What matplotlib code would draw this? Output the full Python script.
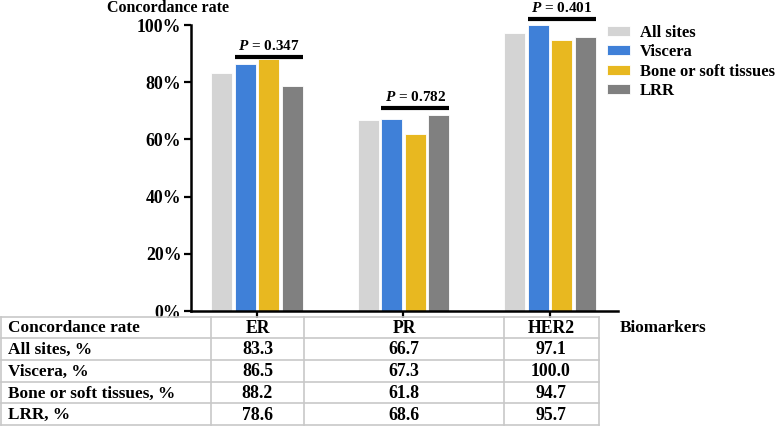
import matplotlib
matplotlib.use("Agg")
import matplotlib.pyplot as plt
import numpy as np

plt.rcParams['font.family'] = 'Liberation Serif'
plt.rcParams['font.weight'] = 'bold'
plt.rcParams['mathtext.fontset'] = 'custom'
plt.rcParams['mathtext.it'] = 'Liberation Serif:italic:bold'
plt.rcParams['mathtext.rm'] = 'Liberation Serif:bold'

# data
biomarkers = ['ER', 'PR', 'HER2']
groups = ['All sites', 'Viscera', 'Bone or soft tissues', 'LRR']
all_sites = [83.3, 66.7, 97.1]
viscera = [86.5, 67.3, 100.0]
bone_soft = [88.2, 61.8, 94.7]
lrr = [78.6, 68.6, 95.7]
p_values = ['0.347', '0.782', '0.401']
bracket_y = [88.8, 71.0, 102.1]
colors = ['#d4d4d4', '#3f80d8', '#e8b820', '#808080']

series = [all_sites, viscera, bone_soft, lrr]

W, H = 776, 426
fig = plt.figure(figsize=(W / 100, H / 100), dpi=100)

# main axes in pixel layout
left, right, top, bottom = 191, 618, 25, 311
ax = fig.add_axes([left / W, 1 - bottom / H, (right - left) / W, (bottom - top) / H])

x = np.arange(len(biomarkers))
width = 0.143
offsets = [-0.24, -0.08, 0.08, 0.24]
for vals, off, c, lab in zip(series, offsets, colors, groups):
    ax.bar(x + off, vals, width, color=c, label=lab, edgecolor='white', linewidth=0.6)

ax.set_xlim(-0.45, 2.464)
ax.set_ylim(0, 100)
ax.set_yticks([0, 20, 40, 60, 80, 100])
ax.set_yticklabels(['%d%%' % v for v in [0, 20, 40, 60, 80, 100]], fontsize=12.8, fontweight='bold')
ax.set_xticks(x)
ax.set_xticklabels([])
for s in ['top', 'right']:
    ax.spines[s].set_visible(False)
ax.spines['left'].set_linewidth(1.8)
ax.spines['bottom'].set_linewidth(1.8)
ax.tick_params(axis='both', width=1.6, length=5, pad=2)

# p-value brackets over Viscera..LRR
for i in range(len(biomarkers)):
    y = bracket_y[i]
    ax.plot([x[i] + offsets[1] - width / 2, x[i] + offsets[3] + width / 2], [y, y],
            color='black', lw=3, solid_capstyle='butt', clip_on=False)
    ax.text(x[i] + 0.08, y + 1.4, r'$P$ = ' + p_values[i], ha='center', va='bottom',
            fontsize=11, fontweight='bold', clip_on=False)

ax.legend(loc='upper left', bbox_to_anchor=(607 / W, 1 - 25 / H), bbox_transform=fig.transFigure,
          frameon=False, fontsize=12, handlelength=1.35, handleheight=0.55,
          handletextpad=0.6, labelspacing=0.2, borderaxespad=0, borderpad=0)

fig.text(107 / W, 1 - 8 / H, 'Concordance rate', fontsize=11.5, fontweight='bold', va='center')
fig.text(620 / W, 1 - 328 / H, 'Biomarkers', fontsize=12.3, fontweight='bold', va='center')

# table below the chart, drawn in pixel coordinates
tab = fig.add_axes([0, 0, 1, 1])
tab.set_xlim(0, W)
tab.set_ylim(H, 0)
tab.axis('off')
tab.patch.set_alpha(0)

row_y = [317, 338, 360, 382, 403, 425]
col_x = [0.5, 211, 304, 504, 599]
line_c = '#c8c8c8'
for yy in row_y:
    tab.plot([col_x[0], col_x[-1]], [yy, yy], color=line_c, lw=1.2)
for xx in col_x:
    tab.plot([xx, xx], [row_y[0], row_y[-1]], color=line_c, lw=1.2)

col_centers = [257.5, 404, 551]
row_labels = ['Concordance rate'] + [g + ', %' for g in groups]
for r in range(5):
    yc = (row_y[r] + row_y[r + 1]) / 2 + 1
    tab.text(8, yc, row_labels[r], fontsize=12.4, fontweight='bold', va='center', ha='left')
    for j in range(3):
        if r == 0:
            s = biomarkers[j]
        else:
            s = '%.1f' % series[r - 1][j]
        tab.text(col_centers[j], yc, s, fontsize=12.8, fontweight='bold', va='center', ha='center')

fig.savefig('out.png', dpi=100, facecolor='white')
